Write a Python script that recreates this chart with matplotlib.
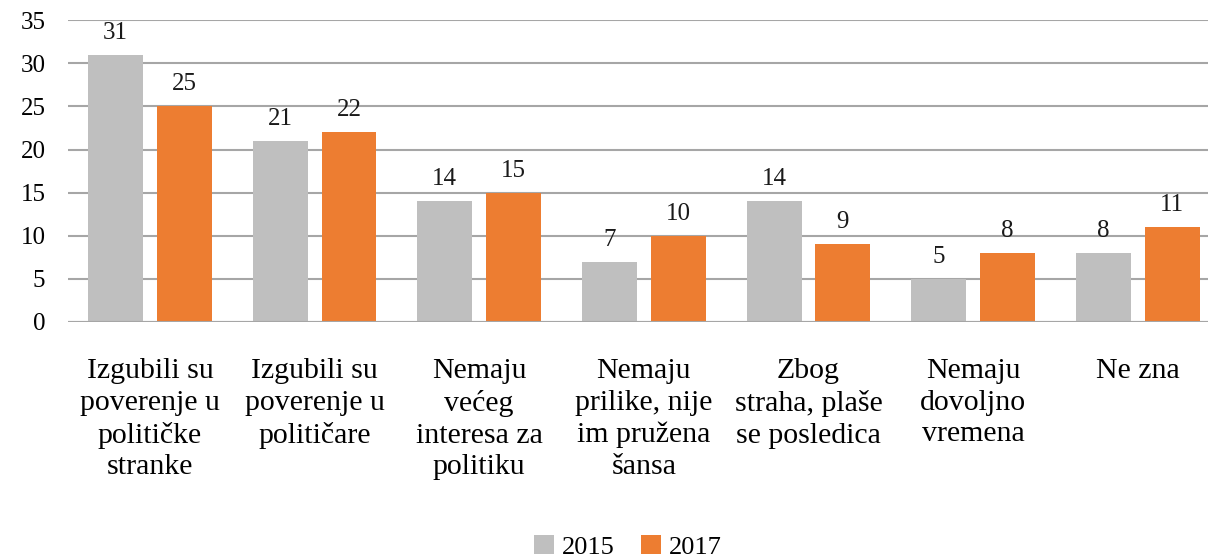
import matplotlib.pyplot as plt
import numpy as np

categories = ["Izgubili su\npoverenje u\npolitičke\nstranke",
              "Izgubili su\npoverenje u\npolitičare",
              "Nemaju\nvećeg\ninteresa za\npolitiku",
              "Nemaju\nprilike, nije\nim pružena\nšansa",
              "Zbog\nstraha, plaše\nse posledica",
              "Nemaju\ndovoljno\nvremena",
              "Ne zna"]
vals2015 = [31, 21, 14, 7, 14, 5, 8]
vals2017 = [25, 22, 15, 10, 9, 8, 11]
series_names = ["2015", "2017"]

plt.rcParams['font.family'] = ['Liberation Serif', 'DejaVu Serif']

fig = plt.figure(figsize=(12.08, 5.6), dpi=100)
ax = fig.add_axes([0.056, 0.425, 0.954, 0.539])

x = np.arange(len(categories))
w = 0.334
off = 0.209
b1 = ax.bar(x - off, vals2015, w, color="#BFBFBF", label=series_names[0], zorder=3)
b2 = ax.bar(x + off, vals2017, w, color="#ED7D31", label=series_names[1], zorder=3)

for bars, vals in ((b1, vals2015), (b2, vals2017)):
    for r, v in zip(bars, vals):
        ax.annotate(str(v), (r.get_x() + r.get_width() / 2, v),
                    xytext=(0, 8), textcoords="offset points",
                    ha="center", va="bottom", fontsize=18, color="#1a1a1a")

ax.set_xlim(-0.5, len(categories) - 0.5)
ax.set_ylim(0, 35)
ax.set_yticks(range(0, 36, 5))
ax.yaxis.grid(True, color="#A6A6A6", linewidth=1.5, zorder=0)
ax.set_axisbelow(True)
for s in ["top", "right", "left", "bottom"]:
    ax.spines[s].set_visible(False)
ax.axhline(0, color="#A6A6A6", linewidth=1.5, zorder=4)
ax.tick_params(axis="y", length=0, labelsize=18, pad=16)
ax.tick_params(axis="x", length=0, labelsize=21.5, pad=26)
ax.set_xticks(x)
ax.set_xticklabels(categories, linespacing=1.28)

fig.legend(handles=[b1, b2], labels=series_names, loc="lower center",
           bbox_to_anchor=(0.52, -0.04), ncol=2, frameon=False, fontsize=19,
           handlelength=0.75, handleheight=0.75, handletextpad=0.3, columnspacing=1.0)

fig.savefig("out.png", dpi=100)
